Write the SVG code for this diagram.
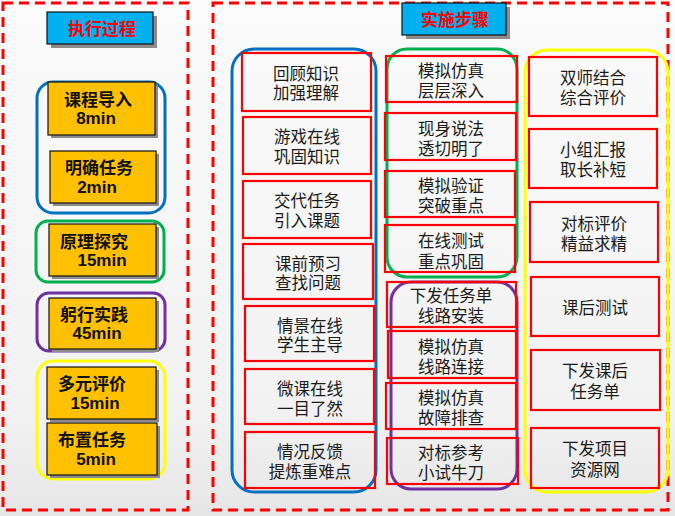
<svg xmlns="http://www.w3.org/2000/svg" width="675" height="516" viewBox="0 0 675 516">
<defs>
<linearGradient id="bg" x1="0" y1="0" x2="0" y2="1">
<stop offset="0" stop-color="#FBFBFB"/>
<stop offset="0.8" stop-color="#F2F2F2"/>
<stop offset="1" stop-color="#E6E6E6"/>
</linearGradient>
</defs>
<style>
.frame{fill:none;stroke:#FF0000;stroke-width:3;stroke-dasharray:10 6}
.hdr{fill:#00B0F0;stroke:#111;stroke-width:1.2}
.shadow{fill:#8C8C8C}
.hdrt{font-family:"Liberation Sans","Noto Sans CJK SC",sans-serif;font-weight:bold;font-size:17px;fill:#FF0000;text-anchor:middle;dominant-baseline:central}
.org{fill:#FFC000;stroke:#111;stroke-width:1.2}
.ot{font-family:"Liberation Sans","Noto Sans CJK SC",sans-serif;font-weight:bold;font-size:17px;fill:#111;text-anchor:middle;dominant-baseline:central}
.grp{fill:none;stroke-width:3}
.blue{stroke:#0070C0}
.green{stroke:#00B050}
.purple{stroke:#7030A0}
.yellow{stroke:#FFFF00}
.rb{fill:none;stroke:#FF0000;stroke-width:2.2}
.t{font-family:"Noto Sans CJK SC","Liberation Sans",sans-serif;font-size:16.5px;fill:#1A1A1A;text-anchor:middle;dominant-baseline:central}
</style>
<rect width="675" height="516" fill="url(#bg)"/>

<!-- Left panel -->
<g id="left-panel">
<rect class="frame" x="3" y="3" width="185" height="507"/>
</g>
<g id="hdr-left">
<rect class="shadow" x="51" y="16" width="106" height="32"/>
<rect class="hdr" x="47" y="12" width="106" height="32"/>
<text class="hdrt" x="102" y="29">执行过程</text>
</g>

<g id="grp-blue-left"><rect class="grp blue" x="37" y="82" width="128" height="131" rx="16"/></g>
<g id="grp-green-left"><rect class="grp green" x="36" y="221" width="128" height="61" rx="12"/></g>
<g id="grp-purple-left"><rect class="grp purple" x="37" y="293" width="128" height="58" rx="12"/></g>
<g id="grp-yellow-left"><rect class="grp yellow" x="37" y="361" width="128" height="118" rx="16"/></g>

<g id="n-kcdr">
<rect class="shadow" x="51" y="85" width="107" height="53"/>
<rect class="org" x="48" y="82" width="107" height="53"/>
<text class="ot" x="98" y="100">课程导入</text>
<text class="ot" x="96" y="118">8min</text>
</g>
<g id="n-mqrw">
<rect class="shadow" x="53" y="154" width="106" height="52"/>
<rect class="org" x="50" y="151" width="106" height="52"/>
<text class="ot" x="99" y="168">明确任务</text>
<text class="ot" x="97" y="187">2min</text>
</g>
<g id="n-yltj">
<rect class="shadow" x="52" y="227" width="107" height="52"/>
<rect class="org" x="49" y="224" width="107" height="52"/>
<text class="ot" x="94" y="242">原理探究</text>
<text class="ot" x="102" y="260">15min</text>
</g>
<g id="n-gxsj">
<rect class="shadow" x="52" y="301" width="107" height="51"/>
<rect class="org" x="49" y="298" width="107" height="51"/>
<text class="ot" x="94" y="315">躬行实践</text>
<text class="ot" x="97" y="333">45min</text>
</g>
<g id="n-dypj">
<rect class="shadow" x="50" y="370" width="109" height="52"/>
<rect class="org" x="47" y="367" width="109" height="52"/>
<text class="ot" x="92" y="384">多元评价</text>
<text class="ot" x="95" y="403">15min</text>
</g>
<g id="n-bzrw">
<rect class="shadow" x="50" y="426" width="110" height="52"/>
<rect class="org" x="47" y="423" width="110" height="52"/>
<text class="ot" x="92" y="440">布置任务</text>
<text class="ot" x="96" y="459">5min</text>
</g>

<!-- Right panel -->
<g id="right-panel">
<rect class="frame" x="213" y="3" width="455" height="507"/>
</g>
<g id="hdr-right">
<rect class="shadow" x="406" y="7" width="104" height="32"/>
<rect class="hdr" x="402" y="3" width="104" height="32"/>
<text class="hdrt" x="455" y="20">实施步骤</text>
</g>

<g id="grp-blue-right"><rect class="grp blue" x="232" y="49" width="144" height="443" rx="22"/></g>
<g id="grp-green-right"><rect class="grp green" x="387" y="49" width="130" height="228" rx="20"/></g>
<g id="grp-purple-right"><rect class="grp purple" x="391" y="282" width="126" height="207" rx="20"/></g>
<g id="grp-yellow-right"><rect class="grp yellow" x="525" y="50" width="143" height="442" rx="22"/></g>

<!-- Column 1 -->
<g id="c1-1"><rect class="rb" x="242" y="53" width="129" height="58"/><text class="t" x="306" y="73">回顾知识</text><text class="t" x="306" y="92">加强理解</text></g>
<g id="c1-2"><rect class="rb" x="243" y="117" width="128" height="57"/><text class="t" x="307" y="136">游戏在线</text><text class="t" x="307" y="156">巩固知识</text></g>
<g id="c1-3"><rect class="rb" x="243" y="181" width="128" height="57"/><text class="t" x="307" y="200">交代任务</text><text class="t" x="307" y="220">引入课题</text></g>
<g id="c1-4"><rect class="rb" x="243" y="244" width="130" height="55"/><text class="t" x="308" y="263">课前预习</text><text class="t" x="308" y="282">查找问题</text></g>
<g id="c1-5"><rect class="rb" x="245" y="306" width="129" height="55"/><text class="t" x="310" y="325">情景在线</text><text class="t" x="310" y="344">学生主导</text></g>
<g id="c1-6"><rect class="rb" x="245" y="369" width="129" height="55"/><text class="t" x="310" y="388">微课在线</text><text class="t" x="310" y="408">一目了然</text></g>
<g id="c1-7"><rect class="rb" x="245" y="432" width="130" height="56"/><text class="t" x="310" y="451">情况反馈</text><text class="t" x="310" y="471">提炼重难点</text></g>

<!-- Column 2 -->
<g id="c2-1"><rect class="rb" x="386" y="56" width="131" height="46"/><text class="t" x="451" y="70">模拟仿真</text><text class="t" x="451" y="90">层层深入</text></g>
<g id="c2-2"><rect class="rb" x="385" y="113" width="131" height="47"/><text class="t" x="451" y="128">现身说法</text><text class="t" x="451" y="148">透切明了</text></g>
<g id="c2-3"><rect class="rb" x="385" y="171" width="130" height="46"/><text class="t" x="451" y="185">模拟验证</text><text class="t" x="451" y="205">突破重点</text></g>
<g id="c2-4"><rect class="rb" x="385" y="225" width="130" height="47"/><text class="t" x="451" y="240">在线测试</text><text class="t" x="451" y="261">重点巩固</text></g>
<g id="c2-5"><rect class="rb" x="387" y="282" width="129" height="45"/><text class="t" x="451" y="295">下发任务单</text><text class="t" x="451" y="315">线路安装</text></g>
<g id="c2-6"><rect class="rb" x="388" y="331" width="128" height="47"/><text class="t" x="451" y="346">模拟仿真</text><text class="t" x="451" y="366">线路连接</text></g>
<g id="c2-7"><rect class="rb" x="386" y="383" width="130" height="46"/><text class="t" x="451" y="397">模拟仿真</text><text class="t" x="451" y="417">故障排查</text></g>
<g id="c2-8"><rect class="rb" x="387" y="438" width="131" height="46"/><text class="t" x="451" y="452">对标参考</text><text class="t" x="451" y="472">小试牛刀</text></g>

<!-- Column 3 -->
<g id="c3-1"><rect class="rb" x="529" y="57" width="128" height="59"/><text class="t" x="593" y="77">双师结合</text><text class="t" x="593" y="97">综合评价</text></g>
<g id="c3-2"><rect class="rb" x="529" y="129" width="128" height="59"/><text class="t" x="593" y="149">小组汇报</text><text class="t" x="593" y="169">取长补短</text></g>
<g id="c3-3"><rect class="rb" x="530" y="202" width="128" height="60"/><text class="t" x="594" y="223">对标评价</text><text class="t" x="594" y="243">精益求精</text></g>
<g id="c3-4"><rect class="rb" x="531" y="277" width="128" height="59"/><text class="t" x="595" y="307">课后测试</text></g>
<g id="c3-5"><rect class="rb" x="531" y="350" width="129" height="60"/><text class="t" x="595" y="370">下发课后</text><text class="t" x="595" y="391">任务单</text></g>
<g id="c3-6"><rect class="rb" x="531" y="428" width="128" height="60"/><text class="t" x="595" y="448">下发项目</text><text class="t" x="595" y="469">资源网</text></g>
</svg>
